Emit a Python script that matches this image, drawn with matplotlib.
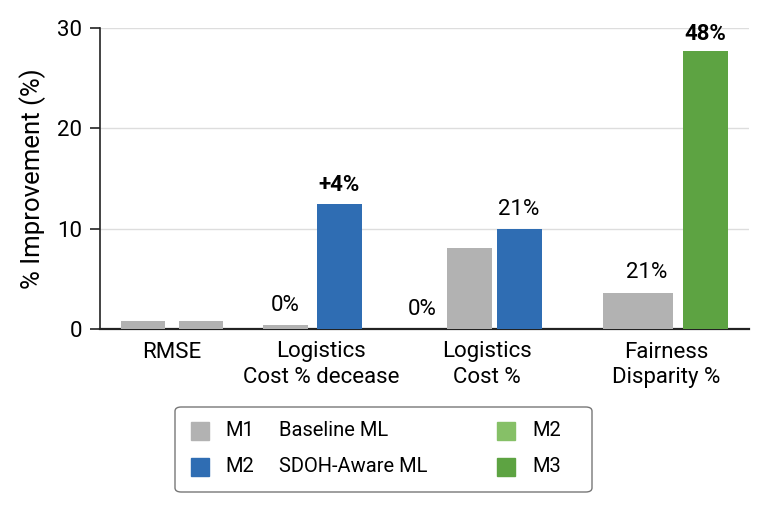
import matplotlib.pyplot as plt
from matplotlib.patches import FancyBboxPatch, Rectangle

plt.rcParams['font.family'] = ['Roboto', 'DejaVu Sans']

# categories and bar values
categories = ["RMSE", "Logistics\nCost % decease", "Logistics\nCost %", "Fairness\nDisparity %"]
baseline = [0.8, 0.4, 8.1, 3.6]
second = [0.8, 12.5, 10.0, 27.7]
second_kind = ["base", "sdoh", "sdoh", "m3"]
base_labels = ["", "0%", "0%", "21%"]
second_labels = ["", "+4%", "21%", "48%"]

legend_rows = [("M1", "Baseline ML", "M2"), ("M2", "SDOH-Aware ML", "M3")]

GRAY = "#b2b2b2"
BLUE = "#2f6db3"
LGREEN = "#86c067"
DGREEN = "#5da342"
colors = {"base": GRAY, "sdoh": BLUE, "m3": DGREEN}

# layout (x in pixel-like units of the axis)
centers = [172, 321, 487, 666]
off1 = [-29, -35.5, -17.5, -28]
off2 = [29.5, 18, 32, 39.5]
w1 = [44, 45, 45, 70]
w2 = [44, 45, 45, 45]

fig = plt.figure(figsize=(7.8, 5.2), dpi=100)
ax = fig.add_axes([100 / 780, 1 - 329 / 520, 649 / 780, 301 / 520])

for i in range(len(categories)):
    ax.bar(centers[i] + off1[i], baseline[i], width=w1[i], color=GRAY, zorder=3)
    ax.bar(centers[i] + off2[i], second[i], width=w2[i], color=colors[second_kind[i]], zorder=3)

# value labels
VFS = 16
ax.text(centers[1] + off1[1], baseline[1] + 0.9, base_labels[1], ha="center", va="bottom", fontsize=VFS)
ax.text(centers[2] + off1[2] - 47, 0.9, base_labels[2], ha="center", va="bottom", fontsize=VFS)
ax.text(centers[3] + off1[3] + 9, baseline[3] + 1.0, base_labels[3], ha="center", va="bottom", fontsize=VFS)
ax.text(centers[1] + off2[1], second[1] + 0.8, second_labels[1], ha="center", va="bottom",
        fontsize=VFS, fontweight="bold")
ax.text(centers[2] + off2[2], second[2] + 0.9, second_labels[2], ha="center", va="bottom", fontsize=VFS)
ax.text(centers[3] + off2[3], second[3] + 0.6, second_labels[3], ha="center", va="bottom",
        fontsize=VFS, fontweight="bold")

ax.set_xlim(100, 749)
ax.set_ylim(0, 30)
ax.set_yticks([0, 10, 20, 30])
ax.set_xticks(centers)
ax.set_xticklabels(categories, fontsize=16, linespacing=1.3)
ax.tick_params(axis="x", length=0, pad=9)
ax.tick_params(axis="y", labelsize=16, length=7, width=1.2, color="#222222", pad=6)
ax.set_ylabel("% Improvement (%)", fontsize=18.5, labelpad=8)
ax.yaxis.grid(True, color="#dddddd", linewidth=1, zorder=0)
for s in ["top", "right"]:
    ax.spines[s].set_visible(False)
ax.spines["left"].set_linewidth(1.2)
ax.spines["bottom"].set_linewidth(1.6)
ax.spines["left"].set_color("#222222")
ax.spines["bottom"].set_color("#222222")

# legend drawn by hand in figure pixels
def fx(px):
    return px / 780

def fy(py):
    return 1 - py / 520

box = FancyBboxPatch((fx(175), fy(492)), fx(592) - fx(175), fy(407) - fy(492),
                     boxstyle="round,pad=0,rounding_size=0.008", transform=fig.transFigure,
                     facecolor="white", edgecolor="#777777", linewidth=1.0)
fig.patches.append(box)

left_colors = [GRAY, BLUE]
right_colors = [LGREEN, DGREEN]
row_y = [431, 467]
sq = 18
LFS = 14.5
for r, (m, desc, m_right) in enumerate(legend_rows):
    y = row_y[r]
    fig.patches.append(Rectangle((fx(191), fy(y + sq / 2)), sq / 780, sq / 520,
                                 transform=fig.transFigure, color=left_colors[r]))
    fig.text(fx(225), fy(y), m, ha="left", va="center", fontsize=LFS)
    fig.text(fx(279), fy(y), desc, ha="left", va="center", fontsize=LFS)
    fig.patches.append(Rectangle((fx(497), fy(y + sq / 2)), sq / 780, sq / 520,
                                 transform=fig.transFigure, color=right_colors[r]))
    fig.text(fx(532), fy(y), m_right, ha="left", va="center", fontsize=LFS)

fig.savefig("out.png", dpi=100, facecolor="white")
